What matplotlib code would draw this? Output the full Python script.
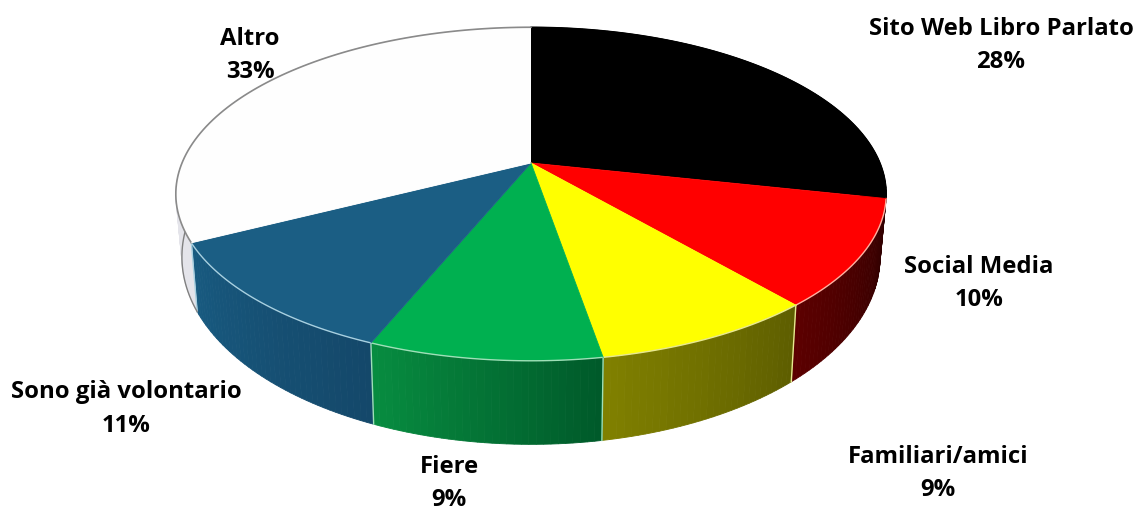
import numpy as np
import matplotlib.pyplot as plt
from matplotlib.patches import Polygon

# Slice sizes as measured on the picture, the printed labels are rounded differently
names = ['Sito Web Libro Parlato', 'Social Media', 'Familiari/amici', 'Fiere', 'Sono già volontario', 'Altro']
percent_labels = ['28%', '10%', '9%', '9%', '11%', '33%']
slice_shares = [28.4, 10.3, 8.6, 8.9, 11.3, 32.5]
top_colors = ['#000000', '#ff0000', '#ffff00', '#00b050', '#1b5e84', '#fefefe']
wall_left_colors = ['#000000', '#5c0000', '#808000', '#078c40', '#185a80', '#e4e4ea']
wall_right_colors = ['#000000', '#2e0000', '#5e5e00', '#005a2a', '#14486a', '#e4e4ea']
edge_colors = ['#000000', '#ffb0a0', '#e8e890', '#9fe0b8', '#a8d0e0', '#8a8a8a']

label_x = [1001, 979, 938, 449, 126, 250]
label_y = [35, 273, 463, 473, 398, 45]
line_gap = 33.5

# perspective of the top face and of the bottom face (pixels)
center_x = 531
top_y, top_a, top_b = 163, 349, 161
bottom_y, bottom_a, bottom_b = 222, 343, 181
persp = 0.186


def project(angle, y0, a, b):
    u, v = np.sin(angle), np.cos(angle)
    w = 1 + persp * v
    return center_x + a * u / w, y0 - b * v / w


fig = plt.figure(figsize=(11.4, 5.07), dpi=100)
ax = fig.add_axes([0, 0, 1, 1])
ax.set_xlim(0, 1140)
ax.set_ylim(507, 0)
ax.axis('off')

edges = np.deg2rad(np.cumsum([0] + slice_shares) * 3.6)

# side walls first, the top faces paint over the hidden part
for i in range(len(slice_shares)):
    start, end = edges[i], edges[i + 1]
    n = max(int(np.degrees(end - start)), 2)
    steps = np.linspace(start, end, n + 1)
    c_left = np.array(plt.matplotlib.colors.to_rgb(wall_left_colors[i]))
    c_right = np.array(plt.matplotlib.colors.to_rgb(wall_right_colors[i]))
    for j in range(n):
        a0, a1 = steps[j], steps[j + 1]
        t = (n - 1 - j) / max(n - 1, 1)  # angle runs right to left along the front
        col = c_left * (1 - t) + c_right * t
        tx0, ty0 = project(a0, top_y, top_a, top_b)
        tx1, ty1 = project(a1, top_y, top_a, top_b)
        bx0, by0 = project(a0, bottom_y, bottom_a, bottom_b)
        bx1, by1 = project(a1, bottom_y, bottom_a, bottom_b)
        ax.add_patch(Polygon([(tx0, ty0), (tx1, ty1), (bx1, by1), (bx0, by0)],
                             facecolor=col, edgecolor=col, linewidth=0.6, zorder=2))

# light vertical seams between the walls
for i in [1, 2, 3, 4]:
    tx, ty = project(edges[i + 1], top_y, top_a, top_b)
    bx, by = project(edges[i + 1], bottom_y, bottom_a, bottom_b)
    ax.plot([tx, bx], [ty, by], color=edge_colors[i + 1 if i < 3 else i], lw=1.0, zorder=3)

# outline of the grey wall on the left
arc = np.linspace(edges[5], np.deg2rad(278), 30)
ax.plot(*project(arc, bottom_y, bottom_a, bottom_b), color='#808080', lw=1.0, zorder=3)

# top faces
for i in range(len(slice_shares)):
    arc = np.linspace(edges[i], edges[i + 1], 90)
    xs, ys = project(arc, top_y, top_a, top_b)
    pts = [(center_x, top_y)] + list(zip(xs, ys))
    ax.add_patch(Polygon(pts, facecolor=top_colors[i], edgecolor='none', zorder=4))
    ax.plot(xs, ys, color=edge_colors[i], lw=1.2 if i == 5 else 1.0, zorder=5)
    ax.plot([center_x, xs[0]], [top_y, ys[0]], color=top_colors[i], lw=0.6, zorder=5)

for i in range(len(names)):
    ax.text(label_x[i], label_y[i], names[i], ha='center', va='baseline',
            fontsize=17.2, fontweight='bold', family='Open Sans', color='#000000', zorder=6)
    ax.text(label_x[i], label_y[i] + line_gap, percent_labels[i], ha='center', va='baseline',
            fontsize=17.2, fontweight='bold', family='Open Sans', color='#000000', zorder=6)

fig.savefig('out.png', dpi=100)
